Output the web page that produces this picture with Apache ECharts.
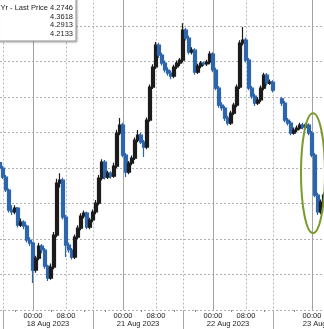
<!DOCTYPE html>
<html>
<head>
<meta charset="utf-8">
<script src="https://cdn.jsdelivr.net/npm/echarts@6/dist/echarts.min.js"></script>
<style>
html,body{margin:0;padding:0;background:#fff;}
#c{width:324px;height:329px;}
</style>
</head>
<body>
<div id="c"></div>
<script>
// OHLC bars: [open, close, low, high]; '-' = no trading (session gap)
const bars = [
[4.2830,4.2800,4.2785,4.2840],[4.2800,4.2749,4.2738,4.2812],[4.2749,4.2676,4.2665,4.2760],[4.2676,4.2563,4.2550,4.2685],
[4.2563,4.2552,4.2535,4.2590],[4.2552,4.2574,4.2540,4.2590],[4.2574,4.2478,4.2465,4.2580],[4.2478,4.2495,4.2468,4.2515],
[4.2495,4.2473,4.2455,4.2505],[4.2473,4.2394,4.2380,4.2480],[4.2394,4.2377,4.2360,4.2410],[4.2377,4.2225,4.2152,4.2385],
[4.2225,4.2292,4.2210,4.2305],[4.2292,4.2360,4.2280,4.2378],[4.2360,4.2338,4.2320,4.2372],[4.2338,4.2247,4.2232,4.2350],
[4.2247,4.2180,4.2163,4.2255],[4.2180,4.2242,4.2170,4.2262],[4.2242,4.2422,4.2230,4.2440],[4.2422,4.2715,4.2410,4.2740],
[4.2715,4.2732,4.2690,4.2771],[4.2732,4.2523,4.2510,4.2745],[4.2523,4.2366,4.2298,4.2535],[4.2366,4.2338,4.2322,4.2380],
[4.2338,4.2298,4.2285,4.2350],[4.2298,4.2411,4.2288,4.2425],[4.2411,4.2461,4.2400,4.2478],[4.2461,4.2529,4.2450,4.2545],
[4.2529,4.2546,4.2515,4.2560],[4.2546,4.2467,4.2455,4.2555],[4.2467,4.2507,4.2455,4.2520],[4.2507,4.2552,4.2495,4.2566],
[4.2552,4.2602,4.2540,4.2620],[4.2602,4.2743,4.2590,4.2760],[4.2743,4.2833,4.2730,4.2850],[4.2833,4.2749,4.2735,4.2845],
[4.2749,4.2771,4.2738,4.2785],[4.2771,4.2754,4.2740,4.2782],[4.2754,4.2811,4.2745,4.2830],[4.2811,4.2997,4.2800,4.3015],
[4.2997,4.3042,4.2985,4.3081],[4.3042,4.2873,4.2860,4.3055],[4.2873,4.2777,4.2749,4.2885],[4.2777,4.2828,4.2765,4.2840],
[4.2828,4.2856,4.2815,4.2870],[4.2856,4.2957,4.2845,4.2972],[4.2957,4.2985,4.2945,4.3014],[4.2985,4.2946,4.2935,4.2998],
[4.2946,4.2918,4.2862,4.2958],[4.2918,4.3070,4.2905,4.3085],[4.3070,4.3256,4.3060,4.3270],[4.3256,4.3369,4.3245,4.3385],
[4.3369,4.3492,4.3358,4.3510],[4.3492,4.3436,4.3420,4.3505],[4.3436,4.3391,4.3378,4.3450],[4.3391,4.3352,4.3338,4.3405],
[4.3352,4.3335,4.3320,4.3368],[4.3335,4.3318,4.3300,4.3350],[4.3318,4.3369,4.3305,4.3382],[4.3369,4.3391,4.3358,4.3405],
[4.3391,4.3408,4.3375,4.3420],[4.3408,4.3577,4.3395,4.3616],[4.3577,4.3532,4.3518,4.3590],[4.3532,4.3453,4.3440,4.3545],
[4.3453,4.3464,4.3440,4.3480],[4.3464,4.3340,4.3325,4.3475],[4.3340,4.3374,4.3330,4.3388],[4.3374,4.3391,4.3362,4.3403],
[4.3391,4.3386,4.3374,4.3400],[4.3386,4.3397,4.3375,4.3410],[4.3397,4.3442,4.3385,4.3458],[4.3442,4.3352,4.3340,4.3452],
[4.3352,4.3250,4.3238,4.3365],[4.3250,4.3154,4.3140,4.3262],[4.3154,4.3138,4.3122,4.3170],[4.3138,4.3081,4.3065,4.3150],
[4.3081,4.3053,4.3040,4.3095],[4.3053,4.3109,4.3042,4.3122],[4.3109,4.3154,4.3098,4.3168],[4.3154,4.3256,4.3142,4.3270],
[4.3256,4.3504,4.3245,4.3520],[4.3504,4.3521,4.3490,4.3594],[4.3521,4.3408,4.3395,4.3535],[4.3408,4.3250,4.3238,4.3420],
[4.3250,4.3205,4.3190,4.3262],[4.3205,4.3166,4.3150,4.3218],[4.3166,4.3183,4.3155,4.3198],[4.3183,4.3250,4.3172,4.3265],
[4.3250,4.3323,4.3238,4.3336],[4.3323,4.3278,4.3265,4.3335],[4.3278,4.3284,4.3268,4.3298],[4.3284,4.3239,4.3225,4.3295],
['-','-','-','-'],['-','-','-','-'],
[4.3190,4.3166,4.3150,4.3200],[4.3166,4.3070,4.3058,4.3178],[4.3070,4.3053,4.3040,4.3082],[4.3053,4.2997,4.2985,4.3065],
[4.2997,4.3014,4.2988,4.3028],[4.3014,4.3025,4.3003,4.3040],[4.3025,4.3042,4.3015,4.3055],[4.3042,4.3030,4.3018,4.3055],
[4.3030,4.3042,4.3020,4.3055],[4.3042,4.2997,4.2985,4.3052],[4.2997,4.2873,4.2860,4.3008],[4.2873,4.2647,4.2635,4.2885],
[4.2647,4.2552,4.2535,4.2660],[4.2552,4.2608,4.2540,4.2622],[4.2608,4.2647,4.2595,4.2660]
];
const categories = bars.map((_, i) => String(i));
const timeTicks = [[11,'00:00'],[22,'08:00'],[41,'00:00'],[52,'08:00'],[71,'00:00'],[82,'08:00'],[104,'00:00']];
const dateTicks = [[16,'18 Aug 2023'],[46,'21 Aug 2023'],[76,'22 Aug 2023'],[108,'23 Aug 2023']];
const dayStartIdx = [11,41,71,104];
const dottedIdx = [1,22,31,52,61,82,91];
const sessionBreakIdx = [1,31,61,91];
const minorTickIdx = [5,17,28,35,47,58,65,77,88,98];
const legendLines = ['Yr - Last Price 4.2746','4.3618','4.2913','4.2133'];
const highlight = {cat: 104, value: 4.2771, halfCats: 4, halfValue: 0.0338};

const timeMap = Object.fromEntries(timeTicks);
const dateMap = Object.fromEntries(dateTicks);
const FONT = 'Liberation Sans';
const TXT = '#222';

const chart = echarts.init(document.getElementById('c'), null, {renderer: 'canvas'});
const baseX = {
  type: 'category', data: categories, boundaryGap: false, gridIndex: 0, position: 'bottom', offset: 0,
  axisLine: {show: false}
};
chart.setOption({
  animation: false,
  backgroundColor: '#fff',
  grid: {left: 0, right: 0, top: -9.5, bottom: 19, containLabel: false, outerBoundsMode: 'none'},
  xAxis: [
    Object.assign({}, baseX, {
      axisLabel: {interval: (i) => timeMap[i] !== undefined, formatter: (v, i) => timeMap[i] || '',
        margin: 1.5, fontSize: 7.5, fontFamily: FONT, color: TXT},
      axisTick: {show: true, interval: (i) => minorTickIdx.includes(i), length: 2, lineStyle: {color: '#888'}},
      splitLine: {show: true, interval: (i) => dayStartIdx.includes(i), lineStyle: {color: '#a2a2a2', width: 1, type: 'solid'}}
    }),
    Object.assign({}, baseX, {
      axisLabel: {show: false},
      axisTick: {show: true, interval: (i) => sessionBreakIdx.includes(i), length: 20, lineStyle: {color: '#a8a8a8'}},
      splitLine: {show: true, interval: (i) => dottedIdx.includes(i), lineStyle: {color: '#b8b8b8', width: 1, type: [2, 2]}}
    }),
    Object.assign({}, baseX, {
      axisLabel: {interval: (i) => dateMap[i] !== undefined, formatter: (v, i) => dateMap[i] || '',
        margin: 10, fontSize: 7.5, fontFamily: FONT, color: TXT, showMaxLabel: true},
      axisTick: {show: false},
      splitLine: {show: false}
    })
  ],
  yAxis: {
    type: 'value', min: 4.20, max: 4.38, interval: 0.02,
    axisLabel: {show: false}, axisLine: {show: false}, axisTick: {show: false},
    splitLine: {show: true, lineStyle: {color: '#b0b0b0', width: 1, type: [2, 2]}}
  },
  series: [{
    type: 'candlestick', xAxisIndex: 0, yAxisIndex: 0, data: bars, barWidth: 3, barMinWidth: 3,
    itemStyle: {color: '#1c1c1c', color0: '#2e66ad', borderColor: '#1c1c1c', borderColor0: '#2e66ad', borderWidth: 1.2}
  }],
  graphic: [
    {id: 'lgbox', type: 'rect', z: 100, shape: {x: -3, y: -3, width: 79, height: 44},
      style: {fill: '#fff', stroke: '#999', lineWidth: 1, shadowBlur: 2, shadowOffsetX: 1, shadowOffsetY: 1, shadowColor: 'rgba(0,0,0,0.25)'}}
  ].concat(legendLines.map((t, k) => ({
    id: 'lg' + k, type: 'text', z: 101, x: 73, y: 8 + k * 8.5,
    style: {text: t, align: 'right', verticalAlign: 'middle', font: '7.5px "' + FONT + '"', fill: TXT}
  })))
});

const c = chart.convertToPixel({xAxisIndex: 0, yAxisIndex: 0}, [highlight.cat, highlight.value]);
const l = chart.convertToPixel({xAxisIndex: 0, yAxisIndex: 0}, [highlight.cat - highlight.halfCats, highlight.value + highlight.halfValue]);
const rx = Math.abs(c[0] - l[0]);
const ry = Math.abs(c[1] - l[1]);
chart.setOption({graphic: [{id: 'ring', type: 'ellipse', z: 90, shape: {cx: c[0] + 1, cy: c[1], rx: rx, ry: ry},
  style: {fill: 'none', stroke: '#7a9a2c', lineWidth: 2}}]});
</script>
</body>
</html>
